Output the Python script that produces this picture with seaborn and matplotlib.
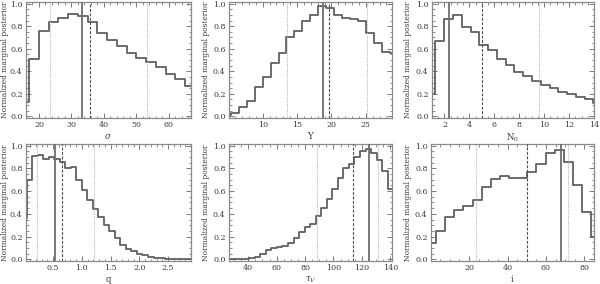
import matplotlib
matplotlib.use("Agg")
import numpy as np
import pandas as pd
import matplotlib.pyplot as plt
from matplotlib.ticker import MultipleLocator, FormatStrFormatter
import seaborn as sns

# ---------------- data ----------------
sigma_x = [15.5, 18.5, 21.5, 24.5, 27.5, 30.5, 33.5, 36.5, 39.5, 42.5, 45.5, 48.5,
           51.5, 54.5, 57.5, 60.5, 63.5, 66.5]
sigma_p = [0.13, 0.51, 0.76, 0.84, 0.87, 0.91, 0.89, 0.84, 0.74, 0.68, 0.62, 0.56,
           0.52, 0.48, 0.44, 0.38, 0.33, 0.27]

Y_x = [4.76, 5.92, 7.08, 8.24, 9.40, 10.56, 11.72, 12.88, 14.04, 15.20, 16.36,
       17.52, 18.68, 19.84, 21.00, 22.16, 23.32, 24.48, 25.64, 26.80, 27.96, 29.12]
Y_p = [0.01, 0.03, 0.08, 0.14, 0.26, 0.35, 0.47, 0.56, 0.70, 0.76, 0.85, 0.90,
       0.98, 0.96, 0.90, 0.87, 0.86, 0.85, 0.74, 0.65, 0.57, 0.56]

N0_x = [0.93, 1.63, 2.34, 3.04, 3.75, 4.45, 5.15, 5.86, 6.56, 7.27, 7.97, 8.67,
        9.38, 10.08, 10.79, 11.49, 12.19, 12.90, 13.60, 14.31]
N0_p = [0.20, 0.67, 0.86, 0.90, 0.79, 0.75, 0.63, 0.59, 0.51, 0.46, 0.39, 0.36,
        0.31, 0.28, 0.25, 0.22, 0.20, 0.17, 0.15, 0.12]

q_x = [-0.008, 0.088, 0.184, 0.280, 0.376, 0.472, 0.568, 0.664, 0.760, 0.856,
       0.952, 1.048, 1.144, 1.240, 1.336, 1.432, 1.528, 1.624, 1.720, 1.816,
       1.912, 2.008, 2.104, 2.200, 2.296, 2.392, 2.488, 2.584, 2.680, 2.776, 2.872]
q_p = [0.36, 0.70, 0.91, 0.92, 0.88, 0.90, 0.88, 0.86, 0.80, 0.81, 0.70, 0.61,
       0.52, 0.44, 0.37, 0.30, 0.25, 0.19, 0.13, 0.09, 0.07, 0.05, 0.035, 0.02,
       0.012, 0.008, 0.005, 0.004, 0.003, 0.002, 0.001]

tau_x = [27.05, 30.95, 34.85, 38.75, 42.65, 46.55, 50.45, 54.35, 58.25, 62.15,
         66.05, 69.95, 73.85, 77.75, 81.65, 85.55, 89.45, 93.35, 97.25, 101.15,
         105.05, 108.95, 112.85, 116.75, 120.65, 124.55, 128.45, 132.35, 136.25, 140.15]
tau_p = [0.0, 0.0, 0.0, 0.005, 0.01, 0.02, 0.045, 0.08, 0.10, 0.11, 0.12, 0.14,
         0.19, 0.24, 0.28, 0.31, 0.38, 0.45, 0.53, 0.62, 0.72, 0.80, 0.84, 0.90,
         0.95, 0.97, 0.94, 0.87, 0.78, 0.62]

i_x = [0.43, 5.18, 9.93, 14.68, 19.43, 24.18, 28.93, 33.68, 38.43, 43.18, 47.93,
       52.68, 57.43, 62.18, 66.93, 71.68, 76.43, 81.18, 85.93]
i_p = [0.14, 0.25, 0.37, 0.43, 0.47, 0.52, 0.64, 0.71, 0.73, 0.72, 0.72, 0.77,
       0.84, 0.94, 0.96, 0.86, 0.65, 0.42, 0.20]

# best fit (solid), median (dashed), 16/84 percentiles (dotted)
best   = [33.2, 18.7, 2.4, 0.54, 124.8, 67.6]
median = [35.8, 19.6, 5.0, 0.65, 113.5, 50.0]
lo     = [23.5, 13.6, None, 0.22, 88.5, 23.7]
hi     = [53.4, 25.1, 9.55, 1.22, 131.6, 71.4]

labels = [r"$\sigma$", "Y", r"N$_0$", "q", r"$\tau_V$", "i"]
xlims = [(16, 66.8), (5.1, 28.8), (1, 14), (0.03, 2.9), (26.5, 141.2), (0.2, 85)]
xmajor = [10, 5, 2, 0.5, 20, 20]
xminor = [2, 1, 0.5, 0.1, 5, 5]
xfmt = ["%d", "%d", "%d", "%.1f", "%d", "%d"]

xs = [sigma_x, Y_x, N0_x, q_x, tau_x, i_x]
ps = [sigma_p, Y_p, N0_p, q_p, tau_p, i_p]

# ---------------- style ----------------
sns.set_theme(style="ticks")
plt.rcParams["font.family"] = ["DejaVu Serif"]
plt.rcParams["mathtext.fontset"] = "dejavuserif"
txt = "#3a3a3a"
fs = 5.7

fig = plt.figure(figsize=(6.0, 2.84), dpi=100)
W, H = 600.0, 284.0
boxes = [(26, 2, 191, 118), (229, 2, 392, 118), (432, 2, 594, 118),
         (26, 144, 191, 261), (229, 144, 392, 261), (431, 144, 594, 261)]
ylab_px = [5.5, 206, 408, 5.5, 206, 408]

for k in range(6):
    l, t, r, b = boxes[k]
    ax = fig.add_axes([l / W, 1 - b / H, (r - l) / W, (b - t) / H])
    cx = np.asarray(xs[k], dtype=float)
    d = np.diff(cx)
    edges = np.concatenate([[cx[0] - d[0] / 2], (cx[:-1] + cx[1:]) / 2, [cx[-1] + d[-1] / 2]])
    df = pd.DataFrame({"x": cx, "p": ps[k]})
    sns.histplot(data=df, x="x", weights="p", bins=[float(e) for e in edges],
                 element="step", fill=False, color="#606060", linewidth=1.3, ax=ax)
    ax.axvline(best[k], color="#6e6e6e", lw=1.3, zorder=3)
    ax.axvline(median[k], color="#4a4a4a", lw=0.8, ls=(0, (2.5, 1.5)), zorder=3)
    for v in (lo[k], hi[k]):
        if v is not None:
            ax.axvline(v, color="#b8b8b8", lw=0.8, ls=(0, (1, 1)), zorder=2)
    ax.set_xlim(*xlims[k])
    ax.set_ylim(-0.015, 1.015)
    ax.xaxis.set_major_locator(MultipleLocator(xmajor[k]))
    ax.xaxis.set_minor_locator(MultipleLocator(xminor[k]))
    ax.xaxis.set_major_formatter(FormatStrFormatter(xfmt[k]))
    ax.yaxis.set_major_locator(MultipleLocator(0.2))
    ax.yaxis.set_minor_locator(MultipleLocator(0.05))
    ax.yaxis.set_major_formatter(FormatStrFormatter("%.1f"))
    ax.tick_params(which="both", direction="in", top=True, right=True,
                   colors="#7a7a7a", labelcolor=txt, labelsize=fs, pad=2.5)
    ax.tick_params(which="major", length=3.5, width=0.7)
    ax.tick_params(which="minor", length=1.8, width=0.6)
    for s in ax.spines.values():
        s.set_color("#8a8a8a")
        s.set_linewidth(0.9)
    ax.set_xlabel(labels[k], fontsize=fs + 0.5, color=txt, labelpad=1.5)
    ax.set_ylabel("Normalized marginal posterior", fontsize=fs - 0.3, color=txt,
                  va="center")
    ax.yaxis.set_label_coords((ylab_px[k] - l) / (r - l), 0.5)

fig.savefig("out.png", dpi=100)
